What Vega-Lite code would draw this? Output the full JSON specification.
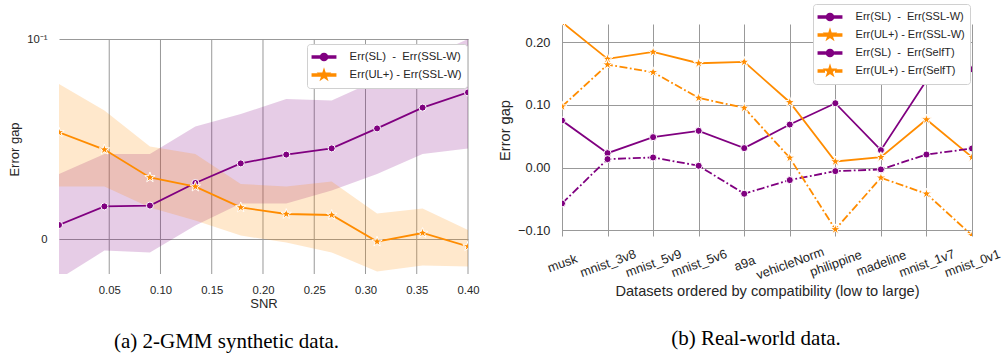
{
  "$schema": "https://vega.github.io/schema/vega-lite/v6.json",
  "padding": {"left": 8, "top": 3, "right": 0, "bottom": 0},
  "spacing": 18,
  "columns": 2,
  "align": "none",
  "resolve": {"scale": {"color": "independent", "shape": "independent"}, "legend": {"color": "independent", "shape": "independent"}},
  "config": {
    "font": "Liberation Sans",
    "view": {"stroke": null},
    "axis": {"labelColor": "#262626", "titleColor": "#262626", "titleFontWeight": "normal", "gridColor": "#999999", "gridWidth": 1, "ticks": false, "domain": false},
    "legend": {"labelColor": "#262626", "fillColor": "white", "strokeColor": "#d0d0d0", "cornerRadius": 3, "padding": 5, "symbolSize": 200, "symbolOffset": 4, "labelOffset": 17.6, "rowPadding": 2, "title": null}
  },
  "datasets": {
    "left": [
      {"snr": 0.001, "series": "Err(SL)\u00a0\u00a0-\u00a0\u00a0Err(SSL-W)", "mean": 0.0070, "lo": -0.02, "hi": 0.0325},
      {"snr": 0.0453, "series": "Err(SL)\u00a0\u00a0-\u00a0\u00a0Err(SSL-W)", "mean": 0.0163, "lo": -0.0058, "hi": 0.0425},
      {"snr": 0.0897, "series": "Err(SL)\u00a0\u00a0-\u00a0\u00a0Err(SSL-W)", "mean": 0.0167, "lo": -0.0067, "hi": 0.0425},
      {"snr": 0.134, "series": "Err(SL)\u00a0\u00a0-\u00a0\u00a0Err(SSL-W)", "mean": 0.028, "lo": 0.0067, "hi": 0.0562},
      {"snr": 0.1783, "series": "Err(SL)\u00a0\u00a0-\u00a0\u00a0Err(SSL-W)", "mean": 0.0378, "lo": 0.0178, "hi": 0.0625},
      {"snr": 0.2227, "series": "Err(SL)\u00a0\u00a0-\u00a0\u00a0Err(SSL-W)", "mean": 0.0422, "lo": 0.0178, "hi": 0.07},
      {"snr": 0.267, "series": "Err(SL)\u00a0\u00a0-\u00a0\u00a0Err(SSL-W)", "mean": 0.0453, "lo": 0.0242, "hi": 0.0692},
      {"snr": 0.3113, "series": "Err(SL)\u00a0\u00a0-\u00a0\u00a0Err(SSL-W)", "mean": 0.0553, "lo": 0.0325, "hi": 0.0795},
      {"snr": 0.3557, "series": "Err(SL)\u00a0\u00a0-\u00a0\u00a0Err(SSL-W)", "mean": 0.0657, "lo": 0.0425, "hi": 0.0897},
      {"snr": 0.4, "series": "Err(SL)\u00a0\u00a0-\u00a0\u00a0Err(SSL-W)", "mean": 0.0733, "lo": 0.0453, "hi": 0.1},
      {"snr": 0.001, "series": "Err(UL+) - Err(SSL-W)", "mean": 0.0533, "lo": 0.0263, "hi": 0.0775},
      {"snr": 0.0453, "series": "Err(UL+) - Err(SSL-W)", "mean": 0.0447, "lo": 0.0263, "hi": 0.0642},
      {"snr": 0.0897, "series": "Err(UL+) - Err(SSL-W)", "mean": 0.0308, "lo": 0.0158, "hi": 0.0462},
      {"snr": 0.134, "series": "Err(UL+) - Err(SSL-W)", "mean": 0.0262, "lo": 0.0092, "hi": 0.0425},
      {"snr": 0.1783, "series": "Err(UL+) - Err(SSL-W)", "mean": 0.0158, "lo": 0.0017, "hi": 0.0275},
      {"snr": 0.2227, "series": "Err(UL+) - Err(SSL-W)", "mean": 0.0125, "lo": -0.0017, "hi": 0.0263},
      {"snr": 0.267, "series": "Err(UL+) - Err(SSL-W)", "mean": 0.012, "lo": -0.0067, "hi": 0.0287},
      {"snr": 0.3113, "series": "Err(UL+) - Err(SSL-W)", "mean": -0.0013, "lo": -0.0162, "hi": 0.0128},
      {"snr": 0.3557, "series": "Err(UL+) - Err(SSL-W)", "mean": 0.003, "lo": -0.0133, "hi": 0.0153},
      {"snr": 0.4, "series": "Err(UL+) - Err(SSL-W)", "mean": -0.0037, "lo": -0.0138, "hi": 0.0045}
    ],
    "right": [
      {"dataset": "musk", "series": "Err(SL)\u00a0\u00a0-\u00a0\u00a0Err(SSL-W)", "value": 0.0752},
      {"dataset": "mnist_3v8", "series": "Err(SL)\u00a0\u00a0-\u00a0\u00a0Err(SSL-W)", "value": 0.0232},
      {"dataset": "mnist_5v9", "series": "Err(SL)\u00a0\u00a0-\u00a0\u00a0Err(SSL-W)", "value": 0.0487},
      {"dataset": "mnist_5v6", "series": "Err(SL)\u00a0\u00a0-\u00a0\u00a0Err(SSL-W)", "value": 0.0588},
      {"dataset": "a9a", "series": "Err(SL)\u00a0\u00a0-\u00a0\u00a0Err(SSL-W)", "value": 0.0312},
      {"dataset": "vehicleNorm", "series": "Err(SL)\u00a0\u00a0-\u00a0\u00a0Err(SSL-W)", "value": 0.0688},
      {"dataset": "philippine", "series": "Err(SL)\u00a0\u00a0-\u00a0\u00a0Err(SSL-W)", "value": 0.1028},
      {"dataset": "madeline", "series": "Err(SL)\u00a0\u00a0-\u00a0\u00a0Err(SSL-W)", "value": 0.028},
      {"dataset": "mnist_1v7", "series": "Err(SL)\u00a0\u00a0-\u00a0\u00a0Err(SSL-W)", "value": 0.1389},
      {"dataset": "mnist_0v1", "series": "Err(SL)\u00a0\u00a0-\u00a0\u00a0Err(SSL-W)", "value": 0.157},
      {"dataset": "musk", "series": "Err(UL+) - Err(SSL-W)", "value": 0.232},
      {"dataset": "mnist_3v8", "series": "Err(UL+) - Err(SSL-W)", "value": 0.1735},
      {"dataset": "mnist_5v9", "series": "Err(UL+) - Err(SSL-W)", "value": 0.1846},
      {"dataset": "mnist_5v6", "series": "Err(UL+) - Err(SSL-W)", "value": 0.1666},
      {"dataset": "a9a", "series": "Err(UL+) - Err(SSL-W)", "value": 0.1687},
      {"dataset": "vehicleNorm", "series": "Err(UL+) - Err(SSL-W)", "value": 0.1044},
      {"dataset": "philippine", "series": "Err(UL+) - Err(SSL-W)", "value": 0.0099},
      {"dataset": "madeline", "series": "Err(UL+) - Err(SSL-W)", "value": 0.0168},
      {"dataset": "mnist_1v7", "series": "Err(UL+) - Err(SSL-W)", "value": 0.0768},
      {"dataset": "mnist_0v1", "series": "Err(UL+) - Err(SSL-W)", "value": 0.0168},
      {"dataset": "musk", "series": "Err(SL)\u00a0\u00a0-\u00a0\u00a0Err(SelfT)", "value": -0.057},
      {"dataset": "mnist_3v8", "series": "Err(SL)\u00a0\u00a0-\u00a0\u00a0Err(SelfT)", "value": 0.0136},
      {"dataset": "mnist_5v9", "series": "Err(SL)\u00a0\u00a0-\u00a0\u00a0Err(SelfT)", "value": 0.0163},
      {"dataset": "mnist_5v6", "series": "Err(SL)\u00a0\u00a0-\u00a0\u00a0Err(SelfT)", "value": 0.003},
      {"dataset": "a9a", "series": "Err(SL)\u00a0\u00a0-\u00a0\u00a0Err(SelfT)", "value": -0.0416},
      {"dataset": "vehicleNorm", "series": "Err(SL)\u00a0\u00a0-\u00a0\u00a0Err(SelfT)", "value": -0.0198},
      {"dataset": "philippine", "series": "Err(SL)\u00a0\u00a0-\u00a0\u00a0Err(SelfT)", "value": -0.0055},
      {"dataset": "madeline", "series": "Err(SL)\u00a0\u00a0-\u00a0\u00a0Err(SelfT)", "value": -0.0028},
      {"dataset": "mnist_1v7", "series": "Err(SL)\u00a0\u00a0-\u00a0\u00a0Err(SelfT)", "value": 0.021},
      {"dataset": "mnist_0v1", "series": "Err(SL)\u00a0\u00a0-\u00a0\u00a0Err(SelfT)", "value": 0.0306},
      {"dataset": "musk", "series": "Err(UL+) - Err(SelfT)", "value": 0.0975},
      {"dataset": "mnist_3v8", "series": "Err(UL+) - Err(SelfT)", "value": 0.1644},
      {"dataset": "mnist_5v9", "series": "Err(UL+) - Err(SelfT)", "value": 0.1522},
      {"dataset": "mnist_5v6", "series": "Err(UL+) - Err(SelfT)", "value": 0.1113},
      {"dataset": "a9a", "series": "Err(UL+) - Err(SelfT)", "value": 0.0954},
      {"dataset": "vehicleNorm", "series": "Err(UL+) - Err(SelfT)", "value": 0.0157},
      {"dataset": "philippine", "series": "Err(UL+) - Err(SelfT)", "value": -0.0984},
      {"dataset": "madeline", "series": "Err(UL+) - Err(SelfT)", "value": -0.0161},
      {"dataset": "mnist_1v7", "series": "Err(UL+) - Err(SelfT)", "value": -0.0416},
      {"dataset": "mnist_0v1", "series": "Err(UL+) - Err(SelfT)", "value": -0.108}
    ]
  },
  "concat": [
    {
      "width": 409,
      "height": 250,
      "data": {"name": "left"},
      "title": {"text": "(a) 2-GMM synthetic data.", "orient": "bottom", "font": "Liberation Serif", "fontSize": 21, "fontWeight": "normal", "color": "#000000", "anchor": "middle", "frame": "group", "dx": -37, "offset": 21},
      "resolve": {"axis": {"x": "independent"}},
      "layer": [
        {
          "transform": [{"filter": "false"}],
          "mark": {"type": "point", "filled": true, "opacity": 1},
          "encoding": {
            "x": {"field": "snr", "type": "quantitative", "axis": null, "scale": {"domain": [0.001, 0.4], "nice": false, "zero": false}},
            "y": {"field": "mean", "type": "quantitative", "scale": {"domain": [-0.0175, 0.1075], "nice": false, "zero": false}},
            "color": {"field": "series", "type": "nominal", "scale": {"domain": ["Err(SL)\u00a0\u00a0-\u00a0\u00a0Err(SSL-W)", "Err(UL+) - Err(SSL-W)"], "range": ["#800080", "#ff8c00"]},
              "legend": {"orient": "none", "legendX": 248, "legendY": 20, "labelFontSize": 11.3}},
            "shape": {"field": "series", "type": "nominal",
              "scale": {"domain": ["Err(SL)\u00a0\u00a0-\u00a0\u00a0Err(SSL-W)", "Err(UL+) - Err(SSL-W)"], "range": [
                "M-1.655,-0.127L1.655,-0.127L1.655,0.127L-1.655,0.127ZM0.51,0A0.51,0.51,0,1,1,-0.51,0A0.51,0.51,0,1,1,0.51,0Z",
                "M-1.655,-0.127L1.655,-0.127L1.655,0.127L-1.655,0.127ZM0,-0.75L0.1684,-0.2318L0.7133,-0.2318L0.2725,0.0885L0.4408,0.6068L0,0.2865L-0.4408,0.6068L-0.2725,0.0885L-0.7133,-0.2318L-0.1684,-0.2318Z"]},
              "legend": {"orient": "none", "legendX": 248, "legendY": 20, "labelFontSize": 11.3}}
          }
        },
        {
          "data": {"values": [{"snr": 0.05}, {"snr": 0.1}, {"snr": 0.15}, {"snr": 0.2}, {"snr": 0.25}, {"snr": 0.3}, {"snr": 0.35}, {"snr": 0.4}]},
          "mark": {"type": "rule", "color": "#999999", "strokeWidth": 1},
          "encoding": {
            "x": {"field": "snr", "type": "quantitative", "axis": null},
            "y": {"datum": -0.0175, "type": "quantitative"},
            "y2": {"datum": 0.1}
          }
        },
        {
          "mark": {"type": "area", "fillOpacity": 0.2, "clip": true},
          "encoding": {
            "x": {"field": "snr", "type": "quantitative",
                  "axis": {"orient": "top", "title": "\u00a0", "titleFontSize": 10, "titlePadding": 10, "labels": false, "grid": false, "ticks": false, "domain": false}},
            "y": {"field": "lo", "type": "quantitative",
                  "axis": {"title": "Error gap", "titleFontSize": 13, "titlePadding": 5, "labelFontSize": 11.3, "labelPadding": 12, "values": [0, 0.1], "labelExpr": "datum.value > 0.05 ? '10\u207b\u00b9' : '0'", "grid": true}},
            "y2": {"field": "hi"},
            "color": {"field": "series", "type": "nominal"}
          }
        },
        {
          "mark": {"type": "line", "strokeWidth": 1.8, "clip": true},
          "encoding": {
            "x": {"field": "snr", "type": "quantitative",
                  "axis": {"title": "SNR", "titleFontSize": 13, "titlePadding": 2, "labelFontSize": 11.3, "labelPadding": 10, "values": [0.05, 0.1, 0.15, 0.2, 0.25, 0.3, 0.35, 0.4], "format": ".2f", "grid": false, "labelFlush": false}},
            "y": {"field": "mean", "type": "quantitative"},
            "color": {"field": "series", "type": "nominal"}
          }
        },
        {
          "transform": [{"filter": "indexof(datum.series, 'UL+') < 0"}],
          "mark": {"type": "point", "shape": "circle", "filled": true, "opacity": 1, "size": 50, "stroke": "white", "strokeWidth": 1, "clip": true},
          "encoding": {
            "x": {"field": "snr", "type": "quantitative", "axis": null},
            "y": {"field": "mean", "type": "quantitative"},
            "color": {"field": "series", "type": "nominal"}
          }
        },
        {
          "transform": [{"filter": "indexof(datum.series, 'UL+') >= 0"}],
          "mark": {"type": "point", "shape": "M0,-1.47L0.33,-0.454L1.398,-0.454L0.534,0.174L0.864,1.189L0,0.562L-0.864,1.189L-0.534,0.174L-1.398,-0.454L-0.33,-0.454Z", "filled": true, "opacity": 1, "size": 55, "stroke": "white", "strokeWidth": 1, "clip": true},
          "encoding": {
            "x": {"field": "snr", "type": "quantitative", "axis": null},
            "y": {"field": "mean", "type": "quantitative"},
            "color": {"field": "series", "type": "nominal"}
          }
        }
      ]
    },
    {
      "width": 410,
      "height": 212,
      "data": {"name": "right"},
      "title": {"text": "(b) Real-world data.", "orient": "bottom", "font": "Liberation Serif", "fontSize": 21, "fontWeight": "normal", "color": "#000000", "anchor": "middle", "frame": "group", "dx": -11, "offset": 30},
      "layer": [
        {
          "transform": [{"filter": "false"}],
          "mark": {"type": "point", "filled": true, "opacity": 1},
          "encoding": {
            "x": {"field": "dataset", "type": "nominal", "sort": null,
                  "scale": {"type": "point", "padding": 0, "domain": ["musk", "mnist_3v8", "mnist_5v9", "mnist_5v6", "a9a", "vehicleNorm", "philippine", "madeline", "mnist_1v7", "mnist_0v1"]}},
            "y": {"field": "value", "type": "quantitative", "scale": {"domain": [-0.109, 0.2292], "nice": false, "zero": false}},
            "color": {"field": "series", "type": "nominal",
              "scale": {"domain": ["Err(SL)\u00a0\u00a0-\u00a0\u00a0Err(SSL-W)", "Err(UL+) - Err(SSL-W)", "Err(SL)\u00a0\u00a0-\u00a0\u00a0Err(SelfT)", "Err(UL+) - Err(SelfT)"], "range": ["#800080", "#ff8c00", "#800080", "#ff8c00"]},
              "legend": {"orient": "none", "legendX": 251, "legendY": -20, "labelFontSize": 11}},
            "shape": {"field": "series", "type": "nominal",
              "scale": {"domain": ["Err(SL)\u00a0\u00a0-\u00a0\u00a0Err(SSL-W)", "Err(UL+) - Err(SSL-W)", "Err(SL)\u00a0\u00a0-\u00a0\u00a0Err(SelfT)", "Err(UL+) - Err(SelfT)"], "range": [
                "M-1.655,-0.127L1.655,-0.127L1.655,0.127L-1.655,0.127ZM0.51,0A0.51,0.51,0,1,1,-0.51,0A0.51,0.51,0,1,1,0.51,0Z",
                "M-1.655,-0.127L1.655,-0.127L1.655,0.127L-1.655,0.127ZM0,-0.75L0.1684,-0.2318L0.7133,-0.2318L0.2725,0.0885L0.4408,0.6068L0,0.2865L-0.4408,0.6068L-0.2725,0.0885L-0.7133,-0.2318L-0.1684,-0.2318Z",
                "M-1.655,-0.127L-1.026,-0.127L-1.026,0.127L-1.655,0.127ZM-0.8275,-0.127L-0.695,-0.127L-0.695,0.127L-0.8275,0.127ZM0.695,-0.127L0.8275,-0.127L0.8275,0.127L0.695,0.127ZM1.026,-0.127L1.655,-0.127L1.655,0.127L1.026,0.127ZM0.51,0A0.51,0.51,0,1,1,-0.51,0A0.51,0.51,0,1,1,0.51,0Z",
                "M-1.655,-0.127L-1.059,-0.127L-1.059,0.127L-1.655,0.127ZM-0.927,-0.127L-0.811,-0.127L-0.811,0.127L-0.927,0.127ZM0.811,-0.127L0.927,-0.127L0.927,0.127L0.811,0.127ZM1.059,-0.127L1.655,-0.127L1.655,0.127L1.059,0.127ZM0,-0.75L0.1684,-0.2318L0.7133,-0.2318L0.2725,0.0885L0.4408,0.6068L0,0.2865L-0.4408,0.6068L-0.2725,0.0885L-0.7133,-0.2318L-0.1684,-0.2318Z"]},
              "legend": {"orient": "none", "legendX": 251, "legendY": -20, "labelFontSize": 11}}
          }
        },
        {
          "transform": [{"filter": "indexof(datum.series, 'SSL-W') >= 0"}],
          "mark": {"type": "line", "strokeWidth": 1.8, "clip": true},
          "encoding": {
            "x": {"field": "dataset", "type": "nominal", "sort": null,
                  "axis": {"title": "Datasets ordered by compatibility (low to large)", "titleFontSize": 14.6, "titlePadding": 2, "labelFontSize": 12.8, "labelAngle": -20, "labelAlign": "center", "labelBaseline": "middle", "labelPadding": 27, "labelOverlap": false, "labelBound": false, "labelFlush": false, "grid": true}},
            "y": {"field": "value", "type": "quantitative",
                  "axis": {"title": "Error gap", "titleFontSize": 14.6, "titlePadding": 5, "labelFontSize": 12.8, "labelPadding": 12, "values": [-0.1, -0.05, 0, 0.05, 0.1, 0.15, 0.2], "format": ".2f", "grid": true}},
            "color": {"field": "series", "type": "nominal"}
          }
        },
        {
          "transform": [{"filter": "indexof(datum.series, 'SelfT') >= 0"}],
          "mark": {"type": "line", "strokeWidth": 1.8, "strokeDash": [8, 2.5, 1.8, 2.5], "clip": true},
          "encoding": {
            "x": {"field": "dataset", "type": "nominal", "sort": null},
            "y": {"field": "value", "type": "quantitative"},
            "color": {"field": "series", "type": "nominal"}
          }
        },
        {
          "transform": [{"filter": "indexof(datum.series, 'UL+') < 0"}],
          "mark": {"type": "point", "shape": "circle", "filled": true, "opacity": 1, "size": 50, "stroke": "white", "strokeWidth": 1, "clip": true},
          "encoding": {
            "x": {"field": "dataset", "type": "nominal", "sort": null},
            "y": {"field": "value", "type": "quantitative"},
            "color": {"field": "series", "type": "nominal"}
          }
        },
        {
          "transform": [{"filter": "indexof(datum.series, 'UL+') >= 0"}],
          "mark": {"type": "point", "shape": "M0,-1.47L0.33,-0.454L1.398,-0.454L0.534,0.174L0.864,1.189L0,0.562L-0.864,1.189L-0.534,0.174L-1.398,-0.454L-0.33,-0.454Z", "filled": true, "opacity": 1, "size": 55, "stroke": "white", "strokeWidth": 1, "clip": true},
          "encoding": {
            "x": {"field": "dataset", "type": "nominal", "sort": null},
            "y": {"field": "value", "type": "quantitative"},
            "color": {"field": "series", "type": "nominal"}
          }
        }
      ]
    }
  ]
}
